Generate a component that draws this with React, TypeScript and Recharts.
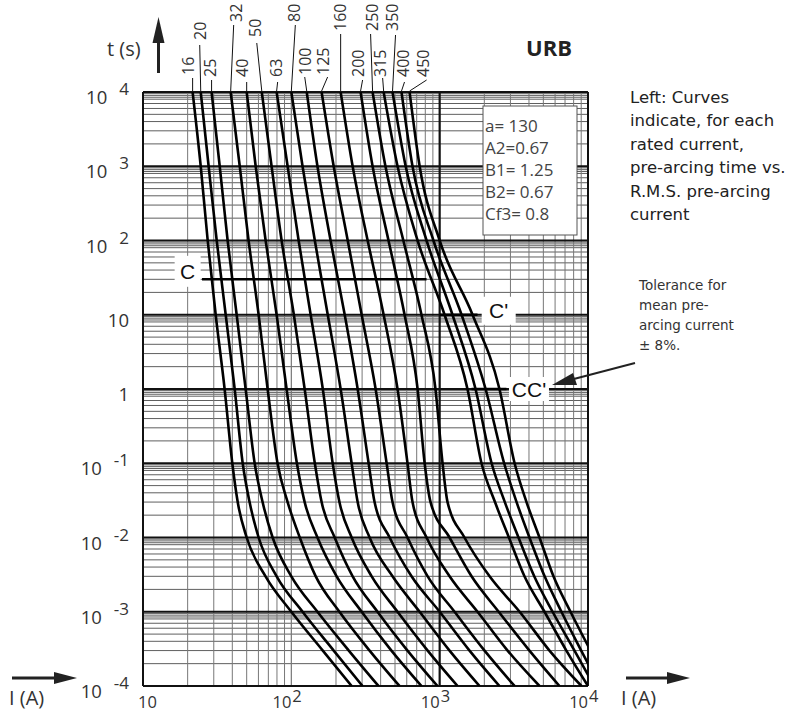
import { LineChart, Line, XAxis, YAxis, ReferenceLine, ReferenceDot } from "recharts";

// rated currents (A) and the pre-arcing time levels (s) the curves were read at
const ratings = ["16", "20", "25", "32", "40", "50", "63", "80", "100", "125", "160", "200", "250", "315", "350", "400", "450"];
const timeLevels = [10000, 1000, 100, 10, 1, 0.1, 0.03, 0.01, 0.003, 0.001, 0.0003, 0.0001];

// prospective current (A) for each curve at the time levels above
const i16 = [21.6, 24.5, 27.3, 30.9, 35.5, 40, 43.5, 50, 67, 100, 163, 255];
const i20 = [24.5, 27.7, 31.4, 36.1, 41.5, 47, 52.3, 60.2, 79.6, 119, 193, 302];
const i25 = [29, 32.9, 37.2, 42.8, 49.2, 56.6, 64, 74.8, 100, 150, 244, 387];
const i32 = [39, 44.9, 51.5, 60.2, 69.2, 80.7, 94.4, 114, 146, 211, 337, 536];
const i40 = [50, 57.5, 67.1, 79.6, 92.9, 109, 123, 150, 202, 298, 473, 754];
const i50 = [63.2, 73.6, 86, 104, 123, 144, 160, 196, 259, 381, 607, 967];
const i63 = [79.6, 94.4, 112, 135, 163, 190, 211, 255, 348, 520, 830, 1320];
const i80 = [100, 119, 144, 176, 215, 255, 280, 337, 481, 733, 1166, 1857];
const i100 = [127, 150, 184, 229, 280, 332, 364, 460, 646, 1000, 1590, 2530];
const i125 = [160, 193, 240, 298, 370, 439, 481, 607, 830, 1260, 2007, 3200];
const i160 = [215, 259, 327, 419, 520, 607, 656, 816, 1166, 1800, 2870, 4710];
const i200 = [293, 353, 452, 580, 710, 792, 868, 1166, 1640, 2500, 4030, 6420];
const i250 = [353, 431, 569, 754, 937, 1046, 1130, 1470, 2170, 3460, 5500, 9030];
const i315 = [419, 520, 710, 1079, 1540, 1915, 2360, 2930, 3730, 5090, 7150, 10000];
const i350 = [481, 590, 816, 1220, 1745, 2240, 2750, 3400, 4340, 5770, 8110, 11000];
const i400 = [553, 656, 908, 1405, 2040, 2720, 3300, 4030, 5100, 6620, 9000, 12000];
const i450 = [627, 733, 1000, 1666, 2530, 3200, 3850, 4710, 5850, 7620, 10400, 14000];
const currents = [i16, i20, i25, i32, i40, i50, i63, i80, i100, i125, i160, i200, i250, i315, i350, i400, i450];

// tolerance marks: C at 30 s, C' at 10 s, CC' at 1 s
const markC = { t: 30, from: 25, to: 816 };
const markC1 = { t: 10, from: 1000, to: 1800 };
const markCC = { t: 1, from: 1640, to: 2820 };

const xTicks = [10, 100, 1000, 10000];
const xTickExp = ["", "2", "3", "4"];
const yTicks = [0.0001, 0.001, 0.01, 0.1, 1, 10, 100, 1000, 10000];
const yTickBase = ["10", "10", "10", "10", "1", "10", "10", "10", "10"];
const yTickExp = ["-4", "-3", "-2", "-1", "", "", "2", "3", "4"];

const params = ["a= 130", "A2=0.67", "B1= 1.25", "B2= 0.67", "Cf3= 0.8"];
const noteLines = ["Left: Curves", "indicate, for each", "rated current,", "pre-arcing time vs.", "R.M.S. pre-arcing", "current"];
const tolLines = ["Tolerance for", "mean pre-", "arcing current", "\u00b1 8%."];

// label placement relative to the top of each curve: text dx, text bottom dy, leader dx, leader top dy
const tagLayout = [
  [-5, -17, 0, -14], [-1, -52, -1, -47], [-2, -15, 0, -12], [5, -70, 3, -67],
  [-5, -15, 0, -10], [-7, -55, -5, -49], [-1, -15, 1, -10], [3, -70, 4, -67],
  [-2, -17, -2, -15], [1, -17, 6, -15], [-1, -61, 0, -58], [-3, -15, 2, -12],
  [-1, -61, -2, -58], [-4, -15, -1, -14], [-1, -61, 3, -57], [1, -15, 3, -10],
  [13, -15, 17, -12],
];

const FONT = "'Open Sans', Lato, sans-serif";
const NOTE_FONT = "'DejaVu Sans', 'Open Sans', sans-serif";
const GRID_H = "#2a2a2a";
const GRID_V = "#777";

const curves = currents.map((row) => row.map((v, j) => ({ i: v, t: timeLevels[j] })));

const decadesY = [-4, -3, -2, -1, 0, 1, 2, 3];
const minorY = [2, 3, 4, 5, 6, 7, 8, 8.5, 9, 9.5];
const hMinor = decadesY.flatMap((d) => minorY.map((m) => m * Math.pow(10, d)));
const hMajor = [0.001, 0.01, 0.1, 1, 10, 100, 1000];
const vMinor = [1, 2, 3].flatMap((d) => [2, 3, 4, 5, 6, 7, 8, 9].map((m) => m * Math.pow(10, d)));

function YTick({ x, y, payload }: any) {
  const k = yTicks.indexOf(payload.value);
  const exp = yTickExp[k];
  return (
    <text x={x} y={y + 4} textAnchor="end" dominantBaseline="central" fontSize={18.5} fill="#333" fontFamily={FONT}>
      <tspan>{yTickBase[k]}</tspan>
      {exp && (
        <tspan dx={12} dy={-8} fontSize={17}>
          {exp}
        </tspan>
      )}
    </text>
  );
}

function XTick({ x, y, payload }: any) {
  const k = xTicks.indexOf(payload.value);
  const exp = xTickExp[k];
  if (!exp) {
    return (
      <text x={x - 5} y={y + 5.5} textAnchor="start" fontSize={16.5} fill="#333" fontFamily={FONT}>
        10
      </text>
    );
  }
  return (
    <g fontSize={16.5} fill="#333" fontFamily={FONT}>
      <text x={x} y={y + 5.5} textAnchor="end">10</text>
      <text x={x + 1} y={y - 0.5} textAnchor="start">{exp}</text>
    </g>
  );
}

function CurveTag({ cx, cy, k }: any) {
  const [tdx, tdy, ldx, ldy] = tagLayout[k];
  const tx = cx + tdx;
  const ty = cy + tdy;
  return (
    <g>
      <line x1={cx} y1={cy - 1} x2={cx + ldx} y2={cy + ldy} stroke="#111" strokeWidth={1} />
      <text
        x={tx}
        y={ty}
        transform={`rotate(-90 ${tx} ${ty})`}
        dominantBaseline="central"
        textAnchor="start"
        fontSize={16}
        fill="#333"
        fontFamily={FONT}
      >
        {ratings[k]}
      </text>
    </g>
  );
}

function BoxLabel({ cx, cy, text, w, h, dy }: any) {
  return (
    <g>
      <rect x={cx - w / 2} y={cy + dy - h / 2} width={w} height={h} fill="#fff" />
      <text
        x={cx}
        y={cy + dy}
        textAnchor="middle"
        dominantBaseline="central"
        fontSize={21}
        fill="#111"
        fontFamily="'Liberation Sans', Arial, sans-serif"
      >
        {text}
      </text>
    </g>
  );
}

export default function App() {
  return (
    <div style={{ position: "absolute", left: 0, top: 0, width: 809, height: 713, background: "#fff", overflow: "hidden" }}>
      <LineChart width={809} height={713} margin={{ top: 92, right: 221, bottom: 0, left: 83 }}>
        <XAxis
          type="number"
          dataKey="i"
          scale="log"
          domain={[10, 10000]}
          allowDataOverflow
          ticks={xTicks}
          interval={0}
          axisLine={false}
          tickLine={false}
          tickSize={0}
          tickMargin={16}
          height={27}
          tick={<XTick />}
        />
        <YAxis
          type="number"
          scale="log"
          domain={[0.0001, 10000]}
          allowDataOverflow
          ticks={yTicks}
          interval={0}
          axisLine={false}
          tickLine={false}
          tickSize={0}
          tickMargin={14}
          width={60}
          tick={<YTick />}
        />
        {hMinor.map((v) => (
          <ReferenceLine key={`hm${v}`} y={v} stroke={GRID_H} strokeWidth={0.75} />
        ))}
        {vMinor.map((v) => (
          <ReferenceLine key={`vm${v}`} x={v} stroke={GRID_V} strokeWidth={1} />
        ))}
        <ReferenceLine x={100} stroke={GRID_V} strokeWidth={1.2} />
        {hMajor.map((v) => (
          <ReferenceLine key={`hM${v}`} y={v} stroke="#111" strokeWidth={1.8} />
        ))}
        <ReferenceLine x={1000} stroke="#111" strokeWidth={2.2} />
        <ReferenceLine x={10} stroke="#111" strokeWidth={2} />
        <ReferenceLine x={10000} stroke="#111" strokeWidth={2} />
        <ReferenceLine y={0.0001} stroke="#111" strokeWidth={2} />
        <ReferenceLine y={10000} stroke="#111" strokeWidth={2} />

        {curves.map((pts, k) => (
          <Line
            key={ratings[k]}
            data={pts}
            dataKey="t"
            type="monotone"
            stroke="#000"
            strokeWidth={2.6}
            dot={false}
            activeDot={false}
            isAnimationActive={false}
          />
        ))}

        {[markC, markC1, markCC].map((m, k) => (
          <ReferenceLine
            key={`mark${k}`}
            segment={[
              { x: m.from, y: m.t },
              { x: m.to, y: m.t },
            ]}
            stroke="#000"
            strokeWidth={2.6}
          />
        ))}
        <ReferenceDot x={20} y={markC.t} r={0} shape={(p: any) => <BoxLabel {...p} text="C" w={26} h={31} dy={-8} />} />
        <ReferenceDot x={2500} y={markC1.t} r={0} shape={(p: any) => <BoxLabel {...p} text="C'" w={34} h={28} dy={-4} />} />
        <ReferenceDot x={4000} y={markCC.t} r={0} shape={(p: any) => <BoxLabel {...p} text="CC'" w={40} h={24} dy={0} />} />

        {curves.map((pts, k) => (
          <ReferenceDot
            key={`tag${k}`}
            x={pts[0].i}
            y={pts[0].t}
            r={0}
            shape={(p: any) => <CurveTag {...p} k={k} />}
          />
        ))}
      </LineChart>

      <svg width={809} height={713} style={{ position: "absolute", left: 0, top: 0, pointerEvents: "none" }}>
        {/* time axis title and arrow */}
        <text x={107} y={48} fontSize={20} fill="#333" fontFamily={FONT} dominantBaseline="central">t (s)</text>
        <line x1={158.5} y1={73} x2={158.5} y2={38} stroke="#222" strokeWidth={3} />
        <polygon points="158.5,17 152.5,43 164.5,43" fill="#222" />

        {/* current axis titles and arrows */}
        <line x1={12} y1={678} x2={60} y2={678} stroke="#222" strokeWidth={3} />
        <polygon points="77,678 54,672 54,684" fill="#222" />
        <text x={9} y={697} fontSize={20} fill="#333" fontFamily={FONT} dominantBaseline="central">I (A)</text>
        <line x1={626} y1={678} x2={672} y2={678} stroke="#222" strokeWidth={3} />
        <polygon points="690,678 667,672 667,684" fill="#222" />
        <text x={621} y={697} fontSize={20} fill="#333" fontFamily={FONT} dominantBaseline="central">I (A)</text>

        <text x={526} y={47} fontSize={22} fontWeight="bold" fill="#222" fontFamily={FONT} dominantBaseline="central">URB</text>

        {/* fuse parameters box */}
        <rect x={483} y={106} width={94} height={129} fill="#fff" stroke="#555" strokeWidth={1} />
        {params.map((s, k) => (
          <text key={s} x={485} y={125 + k * 22} fontSize={17} fill="#444" fontFamily={FONT} dominantBaseline="central">
            {s}
          </text>
        ))}

        {noteLines.map((s, k) => (
          <text key={s} x={630} y={97 + k * 23.5} fontSize={16.5} fill="#222" fontFamily={NOTE_FONT} dominantBaseline="central">
            {s}
          </text>
        ))}
        {tolLines.map((s, k) => (
          <text key={s} x={639} y={285 + k * 20} fontSize={13.5} fill="#333" fontFamily={NOTE_FONT} dominantBaseline="central">
            {s}
          </text>
        ))}
        <line x1={635} y1={363} x2={570} y2={380} stroke="#222" strokeWidth={2} />
        <polygon points="552,385 573,373 577,385" fill="#222" />
      </svg>
    </div>
  );
}
